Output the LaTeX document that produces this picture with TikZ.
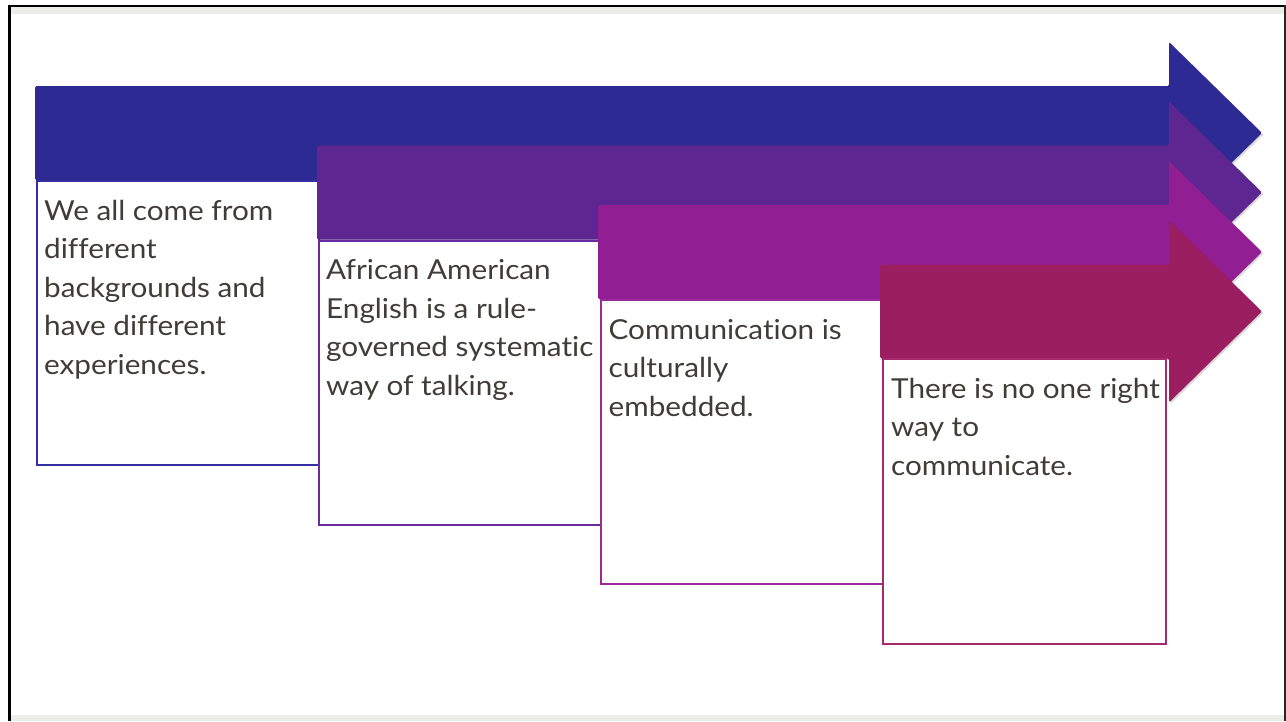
\documentclass[tikz,border=0pt]{standalone}
\usepackage{fontspec}
\setmainfont{Lato}[FakeStretch=1.08, Ligatures={NoCommon}]
\usetikzlibrary{calc}
\definecolor{arA}{RGB}{46,42,148}
\definecolor{arB}{RGB}{94,38,144}
\definecolor{arC}{RGB}{146,30,147}
\definecolor{arD}{RGB}{154,30,96}
\definecolor{bdA}{RGB}{52,46,160}
\definecolor{bdB}{RGB}{106,43,160}
\definecolor{bdC}{RGB}{154,42,154}
\definecolor{bdD}{RGB}{165,42,110}
\definecolor{txt}{RGB}{64,60,58}
\definecolor{strip}{RGB}{236,236,232}
\tikzset{
  textbox/.style={draw=#1, line width=2pt, fill=white, minimum width=282pt, minimum height=284pt, inner sep=0pt, anchor=north west},
  label/.style={anchor=base west, inner sep=0pt, text=txt, font=\fontsize{27.5}{38.5}\selectfont},
}
\newcommand{\bigarrow}[3]{% left x, center y, colour
  \fill[black, opacity=0.15] ({#1+1.5},{#2-47+1.5}) -- ({1169+1.5},{#2-47+1.5}) -- ({1169+1.5},{#2-91+1.5}) -- ({1262+1.5},{#2+1.5}) -- ({1169+1.5},{#2+91+1.5}) -- ({1169+1.5},{#2+47+1.5}) -- ({#1+1.5},{#2+47+1.5}) -- cycle;
  \fill[#3, rounded corners=1.5pt] (#1,{#2-47}) -- (1169,{#2-47}) -- (1169,{#2-91}) -- (1262,#2) -- (1169,{#2+91}) -- (1169,{#2+47}) -- (#1,{#2+47}) -- cycle;
}
\begin{document}
\begin{tikzpicture}[x=1pt,y=-1pt]
\useasboundingbox (0,0) rectangle (1286,721);
\fill[white] (0,0) rectangle (1286,721);
% frame
\fill[strip] (10,7) rectangle (1284,14);
\fill[strip] (10,715) rectangle (1284,721);
\fill[black] (8,5) rectangle (1286,7);
\fill[black] (8,5) rectangle (11,721);
\fill[black!85] (1284,5) rectangle (1286,721);
% stage 1
\bigarrow{35}{133}{arA}
\node[textbox=bdA] (b1) at (36,180) {};
\node[label] (t1) at (44,220) {\parbox[t]{275pt}{\raggedright We all come from\\ different\\ backgrounds and\\ have different\\ experiences.}};
% stage 2
\bigarrow{317}{192.5}{arB}
\node[textbox=bdB] (b2) at (318,239.5) {};
\node[label] (t2) at (326,279.5) {\parbox[t]{275pt}{\raggedright African American\\ English is a rule-\\ governed systematic\\ way of talking.}};
% stage 3
\bigarrow{598}{252}{arC}
\node[textbox=bdC] (b3) at (600,299) {};
\node[label] (t3) at (608.5,339) {\parbox[t]{275pt}{\raggedright Communication is\\ culturally\\ embedded.}};
% stage 4
\bigarrow{880}{311.5}{arD}
\node[textbox=bdD, minimum width=283pt, minimum height=285pt] (b4) at (882,357.5) {};
\node[label] (t4) at (891,398) {\parbox[t]{275pt}{\raggedright There is no one right\\ way to\\ communicate.}};
\end{tikzpicture}
\end{document}
